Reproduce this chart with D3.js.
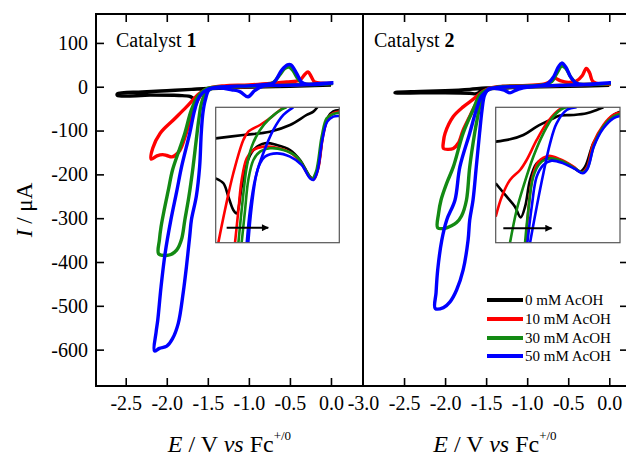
<!DOCTYPE html>
<html><head><meta charset="utf-8">
<script src="https://cdn.jsdelivr.net/npm/d3@7"></script>
<style>
html,body{margin:0;padding:0;background:#fff;}
svg text{font-family:"Liberation Serif","Times New Roman",serif;fill:#000;}
</style></head>
<body><svg id="chart" width="626" height="456"></svg>
<script>
// ---------------- DATA ----------------
const xTicks1 = [-2.5, -2.0, -1.5, -1.0, -0.5, 0.0];
const xTicks2 = [-3.0, -2.5, -2.0, -1.5, -1.0, -0.5, 0.0];
const yTicks = [100, 0, -100, -200, -300, -400, -500, -600];
const seriesNames = ["0 mM AcOH", "10 mM AcOH", "30 mM AcOH", "50 mM AcOH"];
const panelTitles = ["1", "2"];

// Catalyst 1 CVs  [E (V vs Fc+/0), I (uA)]
const cat1_0mM = [[0.00,4],[-0.5,1],[-1.0,-1],[-1.3,-3],[-1.5,-5],[-1.56,-9],[-1.61,-22],[-1.64,-31],[-1.68,-26],[-1.72,-22],[-1.85,-20],[-2.2,-19],[-2.6,-20],
  [-2.6,-16],[-2.3,-12],[-2.0,-9],[-1.7,-6],[-1.5,-4],[-1.2,-2],[-0.8,0],[-0.4,2],[0.00,4]];
const cat1_10mM = [[0.02,8],[-0.2,6],[-0.5,4],[-0.8,2],[-1.1,0],[-1.3,-1],[-1.48,-3],[-1.55,-10],[-1.6,-23],[-1.65,-42],[-1.7,-68],[-1.77,-110],[-1.84,-145],[-1.9,-157],[-1.94,-160],[-2.0,-157],[-2.05,-155],[-2.12,-158],[-2.19,-165],
  [-2.17,-140],[-2.08,-106],[-1.92,-76],[-1.76,-46],[-1.6,-15],[-1.48,-3],[-1.3,2],[-1.0,4],[-0.71,8],[-0.54,11],[-0.38,15],[-0.32,28],[-0.28,34],[-0.24,23],[-0.2,11],[-0.1,8],[0.02,8]];
const cat1_30mM = [[0.02,7],[-0.3,5],[-0.6,3],[-1.0,1],[-1.3,-1],[-1.45,-4],[-1.53,-15],[-1.58,-40],[-1.61,-75],[-1.64,-120],[-1.68,-183],[-1.73,-250],[-1.78,-304],[-1.82,-348],[-1.88,-373],[-1.95,-383],[-2.02,-385],[-2.1,-381],
  [-2.09,-350],[-2.07,-320],[-2.03,-280],[-1.98,-235],[-1.93,-190],[-1.85,-145],[-1.78,-106],[-1.70,-53],[-1.62,-22],[-1.52,-5],[-1.3,0],[-1.0,2],[-0.8,4],[-0.7,10],[-0.62,28],[-0.56,42],[-0.51,45],[-0.46,36],[-0.41,20],[-0.35,8],[-0.25,5],[0.02,7]];
const cat1_50mM = [[0.03,9],[-0.3,5],[-0.6,3],[-0.82,2],[-0.93,-9],[-1.01,-23],[-1.11,-11],[-1.21,-7],[-1.35,-3],[-1.48,-6],[-1.53,-30],[-1.56,-60],[-1.58,-106],[-1.6,-183],[-1.64,-250],[-1.70,-304],[-1.72,-340],[-1.76,-410],[-1.80,-470],[-1.86,-540],[-1.93,-575],[-2.0,-592],[-2.09,-597],[-2.15,-603],
  [-2.13,-560],[-2.11,-533],[-2.07,-457],[-2.02,-380],[-1.95,-304],[-1.88,-240],[-1.82,-183],[-1.72,-106],[-1.66,-53],[-1.6,-22],[-1.5,-6],[-1.3,0],[-1.0,2],[-0.8,5],[-0.7,9],[-0.6,38],[-0.53,50],[-0.49,50],[-0.42,31],[-0.36,11],[-0.3,6],[-0.2,5],[0.03,9]];

// Catalyst 2 CVs
const cat2_0mM = [[0.0,3],[-0.5,1],[-1.0,-1],[-1.3,-3],[-1.48,-5],[-1.56,-10],[-1.62,-16],[-1.7,-15],[-2.0,-14],[-2.3,-14],[-2.61,-14],
  [-2.6,-13],[-2.3,-11],[-2.0,-9],[-1.7,-6],[-1.5,-3],[-1.0,0],[-0.5,1],[0.0,3]];
const cat2_10mM = [[0.02,6],[-0.3,5],[-0.6,3],[-1.0,1],[-1.3,-1],[-1.45,-4],[-1.51,-11],[-1.56,-25],[-1.62,-38],[-1.70,-68],[-1.78,-99],[-1.84,-129],[-1.90,-141],[-1.96,-143],[-2.02,-141],
  [-2.02,-125],[-2.0,-106],[-1.90,-68],[-1.78,-46],[-1.66,-29],[-1.54,-11],[-1.45,-3],[-1.3,1],[-1.0,3],[-0.8,6],[-0.72,12],[-0.66,19],[-0.6,14],[-0.5,10],[-0.4,13],[-0.33,25],[-0.28,42],[-0.24,32],[-0.2,12],[-0.1,6],[0.02,6]];
const cat2_30mM = [[0.02,7],[-0.3,5],[-0.6,3],[-1.0,1],[-1.3,-1],[-1.45,-4],[-1.52,-15],[-1.57,-40],[-1.61,-75],[-1.64,-106],[-1.70,-183],[-1.74,-259],[-1.8,-295],[-1.86,-310],[-1.93,-318],[-2.0,-323],[-2.09,-322],
  [-2.08,-290],[-2.05,-259],[-1.98,-220],[-1.90,-183],[-1.78,-106],[-1.66,-53],[-1.56,-15],[-1.4,-2],[-1.0,2],[-0.78,5],[-0.7,12],[-0.64,30],[-0.58,47],[-0.53,42],[-0.47,22],[-0.4,8],[-0.3,5],[0.02,7]];
const cat2_50mM = [[0.02,9],[-0.3,5],[-0.6,3],[-0.9,1],[-1.08,-4],[-1.15,-9],[-1.21,-14],[-1.28,-8],[-1.38,-4],[-1.47,-5],[-1.52,-20],[-1.55,-53],[-1.58,-106],[-1.62,-183],[-1.66,-259],[-1.70,-304],[-1.72,-350],[-1.78,-418],[-1.86,-464],[-1.94,-491],[-2.02,-504],[-2.12,-506],
  [-2.11,-470],[-2.09,-418],[-2.04,-350],[-1.98,-304],[-1.88,-259],[-1.82,-183],[-1.70,-106],[-1.62,-53],[-1.55,-20],[-1.45,-5],[-1.2,0],[-0.9,2],[-0.76,6],[-0.68,22],[-0.62,45],[-0.58,54],[-0.53,45],[-0.47,22],[-0.4,8],[-0.3,5],[0.02,9]];

// Insets (magnified onset region, arbitrary magnified current units)
const insetE = [-1.70, -0.90];
const insetI = [-14, 1];
const ins1_0mM = [
  [[-1.700,-2.44],[-1.521,-2.07],[-1.349,-1.70],[-1.219,-0.96],[-1.111,0.15],[-1.068,0.52],[-1.042,1.0]],
  [[-1.700,-6.87],[-1.650,-7.42],[-1.618,-8.90],[-1.586,-10.38],[-1.564,-10.75],[-1.532,-7.79],[-1.499,-5.21],[-1.456,-3.73],[-1.381,-2.99],[-1.305,-3.17],[-1.219,-3.73],[-1.154,-4.84],[-1.090,-6.68],[-1.068,-6.94],[-1.036,-5.58],[-1.004,-1.88],[-0.971,-0.03],[-0.939,0.55],[-0.900,0.70]]];
const ins1_10mM = [
  [[-1.683,-14.0],[-1.640,-10.38],[-1.586,-6.31],[-1.521,-2.62],[-1.489,-1.70],[-1.413,-0.96],[-1.349,-0.22],[-1.284,0.70],[-1.251,1.0]],
  [[-1.575,-14.0],[-1.553,-10.38],[-1.532,-7.05],[-1.499,-4.65],[-1.456,-3.73],[-1.392,-3.36],[-1.305,-3.47],[-1.219,-3.99],[-1.154,-5.02],[-1.090,-6.76],[-1.064,-6.98],[-1.036,-5.76],[-1.004,-2.07],[-0.971,-0.11],[-0.939,0.34],[-0.900,0.52]]];
const ins1_30mM = [
  [[-1.553,-14.0],[-1.532,-10.38],[-1.499,-5.58],[-1.467,-3.36],[-1.413,-1.51],[-1.349,-0.22],[-1.273,0.78],[-1.241,1.0]],
  [[-1.532,-14.0],[-1.510,-10.38],[-1.489,-7.05],[-1.456,-4.84],[-1.413,-3.91],[-1.349,-3.54],[-1.262,-3.73],[-1.176,-4.47],[-1.111,-6.13],[-1.079,-6.94],[-1.051,-6.13],[-1.014,-2.25],[-0.982,-0.22],[-0.939,0.26],[-0.900,0.41]]];
const ins1_50mM = [
  [[-1.489,-14.0],[-1.467,-10.01],[-1.435,-6.31],[-1.392,-4.10],[-1.327,-1.51],[-1.262,0.15],[-1.198,1.0]],
  [[-1.499,-14.0],[-1.478,-10.38],[-1.446,-7.05],[-1.413,-5.21],[-1.381,-4.47],[-1.305,-4.10],[-1.219,-4.47],[-1.144,-5.39],[-1.090,-6.87],[-1.068,-7.05],[-1.042,-6.13],[-1.010,-2.62],[-0.978,-0.59],[-0.939,-0.03],[-0.900,0.04]]];

const ins2_0mM = [
  [[-1.700,-2.80],[-1.608,-2.55],[-1.522,-2.07],[-1.436,-1.14],[-1.350,-0.40],[-1.286,0.08],[-1.200,0.15],[-1.114,0.34],[-1.050,0.70],[-1.007,1.0]],
  [[-1.700,-7.42],[-1.629,-8.90],[-1.576,-10.01],[-1.539,-11.19],[-1.511,-10.01],[-1.479,-7.05],[-1.436,-5.21],[-1.372,-4.65],[-1.308,-4.84],[-1.222,-5.39],[-1.157,-6.13],[-1.125,-5.58],[-1.072,-2.99],[-1.007,-1.14],[-0.943,0.15],[-0.900,0.52]]];
const ins2_10mM = [
  [[-1.700,-11.12],[-1.661,-8.90],[-1.608,-7.05],[-1.543,-5.95],[-1.501,-4.84],[-1.436,-2.62],[-1.372,-0.77],[-1.308,0.52],[-1.265,1.0]],
  [[-1.505,-14.0],[-1.490,-10.38],[-1.462,-6.68],[-1.425,-5.02],[-1.361,-4.39],[-1.286,-4.76],[-1.200,-5.58],[-1.147,-6.20],[-1.114,-5.69],[-1.072,-2.99],[-1.007,-0.96],[-0.943,0.15],[-0.900,0.41]]];
const ins2_30mM = [
  [[-1.608,-14.0],[-1.565,-10.38],[-1.522,-7.79],[-1.458,-4.47],[-1.393,-1.88],[-1.329,-0.03],[-1.265,0.89],[-1.232,1.0]],
  [[-1.511,-14.0],[-1.490,-10.38],[-1.458,-6.68],[-1.415,-5.21],[-1.350,-4.65],[-1.275,-4.95],[-1.190,-5.76],[-1.140,-6.24],[-1.110,-5.76],[-1.067,-3.17],[-1.007,-1.14],[-0.943,-0.03],[-0.900,0.26]]];
const ins2_50mM = [
  [[-1.479,-14.0],[-1.436,-10.01],[-1.393,-6.31],[-1.350,-2.99],[-1.308,-0.77],[-1.243,0.70],[-1.179,1.0]],
  [[-1.496,-14.0],[-1.468,-10.01],[-1.436,-6.68],[-1.393,-5.39],[-1.340,-4.91],[-1.265,-5.21],[-1.190,-5.83],[-1.140,-6.31],[-1.110,-5.83],[-1.067,-3.29],[-1.007,-1.33],[-0.943,-0.22],[-0.900,0.04]]];

// Scan-direction arrows in insets
const arrowIns1 = [[-1.629,-12.34],[-1.360,-12.34]];
const arrowIns2 = [[-1.651,-12.40],[-1.340,-12.40]];

// ---------------- STYLE / LAYOUT ----------------
const colors = ["#000000", "#ff0000", "#138a13", "#0000ff"];
const svg = d3.select("#chart");
const yTopPx = 14, yBotPx = 386;
const panels = [
  {x0: 96, x1: 363, domain: [-2.862, 0.390], ticks: xTicks1, data: [cat1_0mM, cat1_10mM, cat1_30mM, cat1_50mM],
   inset: {x: 215.7, y: 107.3, w: 123.6, h: 135.4, data: [ins1_0mM, ins1_10mM, ins1_30mM, ins1_50mM], arrow: arrowIns1}},
  {x0: 363, x1: 627, domain: [-3.0, 0.216], ticks: xTicks2, data: [cat2_0mM, cat2_10mM, cat2_30mM, cat2_50mM],
   inset: {x: 495.7, y: 107.3, w: 124.3, h: 135.4, data: [ins2_0mM, ins2_10mM, ins2_30mM, ins2_50mM], arrow: arrowIns2}}
];
const y = d3.scaleLinear().domain([-683, 166]).range([yBotPx, yTopPx]);
const fmtX = d => d3.format(".1f")(d).replace("\u2212", "-");
const fmtY = d => String(d);

const defs = svg.append("defs");
defs.append("marker").attr("id", "arrowhead").attr("viewBox", "0 0 10 10")
  .attr("refX", 9).attr("refY", 5).attr("markerUnits", "userSpaceOnUse")
  .attr("markerWidth", 13).attr("markerHeight", 7).attr("orient", "auto")
  .append("path").attr("d", "M0,0L10,5L0,10Z").attr("fill", "#000");

panels.forEach((p, pi) => {
  const x = d3.scaleLinear().domain(p.domain).range([p.x0, p.x1]);
  const clipId = "clip" + pi;
  defs.append("clipPath").attr("id", clipId).append("rect")
    .attr("x", p.x0).attr("y", yTopPx).attr("width", p.x1 - p.x0).attr("height", yBotPx - yTopPx);
  const line = d3.line().x(d => x(d[0])).y(d => y(d[1])).curve(d3.curveCatmullRom.alpha(0.5));
  const gc = svg.append("g").attr("clip-path", `url(#${clipId})`);
  p.data.forEach((s, i) => {
    gc.append("path").attr("d", line(s)).attr("fill", "none")
      .attr("stroke", colors[i]).attr("stroke-width", 3.4).attr("stroke-linejoin", "round");
  });

  // inset
  const ins = p.inset;
  const xi = d3.scaleLinear().domain(insetE).range([ins.x, ins.x + ins.w]);
  const yi = d3.scaleLinear().domain(insetI).range([ins.y + ins.h, ins.y]);
  svg.append("rect").attr("x", ins.x).attr("y", ins.y).attr("width", ins.w).attr("height", ins.h)
    .attr("fill", "#fff");
  const icl = "iclip" + pi;
  defs.append("clipPath").attr("id", icl).append("rect")
    .attr("x", ins.x).attr("y", ins.y).attr("width", ins.w).attr("height", ins.h);
  const gi = svg.append("g").attr("clip-path", `url(#${icl})`);
  const iline = d3.line().x(d => xi(d[0])).y(d => yi(d[1])).curve(d3.curveCatmullRom.alpha(0.5));
  ins.data.forEach((branches, i) => {
    branches.forEach(b => {
      gi.append("path").attr("d", iline(b)).attr("fill", "none")
        .attr("stroke", colors[i]).attr("stroke-width", 2.6);
    });
  });
  svg.append("line").attr("x1", xi(ins.arrow[0][0])).attr("y1", yi(ins.arrow[0][1]))
    .attr("x2", xi(ins.arrow[1][0])).attr("y2", yi(ins.arrow[1][1]))
    .attr("stroke", "#000").attr("stroke-width", 2).attr("marker-end", "url(#arrowhead)");
  svg.append("rect").attr("x", ins.x).attr("y", ins.y).attr("width", ins.w).attr("height", ins.h)
    .attr("fill", "none").attr("stroke", "#555").attr("stroke-width", 1.2);

  // axes
  const gb = svg.append("g").attr("transform", `translate(0,${yBotPx})`)
    .call(d3.axisBottom(x).tickValues(p.ticks).tickSize(-8).tickPadding(10).tickFormat(fmtX));
  const gt = svg.append("g").attr("transform", `translate(0,${yTopPx})`)
    .call(d3.axisTop(x).tickValues(p.ticks.filter(t => x(t) > p.x0 + 2)).tickSize(-8).tickFormat(""));
  [gb, gt].forEach(g => { g.select(".domain").remove(); });
  gb.selectAll(".tick line").filter(d => x(d) <= p.x0 + 2).remove();
  if (pi === 0) {
    const gl = svg.append("g").attr("transform", `translate(${p.x0},0)`)
      .call(d3.axisLeft(y).tickValues(yTicks).tickSize(-8).tickPadding(8).tickFormat(fmtY));
    gl.select(".domain").remove();
  } else {
    const gr = svg.append("g").attr("transform", `translate(${p.x1},0)`)
      .call(d3.axisRight(y).tickValues(yTicks).tickSize(-7).tickFormat(""));
    gr.select(".domain").remove();
  }
  svg.selectAll(".tick line").attr("stroke", "#000").attr("stroke-width", 1.6);
  svg.selectAll(".tick text").attr("font-size", 20).attr("font-family", '"Liberation Serif",serif');

  // frame
  svg.append("rect").attr("x", p.x0).attr("y", yTopPx).attr("width", p.x1 - p.x0).attr("height", yBotPx - yTopPx)
    .attr("fill", "none").attr("stroke", "#000").attr("stroke-width", 2);

  // panel title
  const tt = svg.append("text").attr("x", p.x0 + (pi === 0 ? 20 : 11)).attr("y", 47).attr("font-size", 20);
  tt.append("tspan").text("Catalyst ");
  tt.append("tspan").attr("font-weight", "bold").text(panelTitles[pi]);

  // x title
  const xt = svg.append("text").attr("x", (p.x0 + p.x1) / 2).attr("y", 452)
    .attr("text-anchor", "middle").attr("font-size", 24);
  xt.append("tspan").attr("font-style", "italic").text("E");
  xt.append("tspan").text(" / V ");
  xt.append("tspan").attr("font-style", "italic").text("vs");
  xt.append("tspan").text(" Fc");
  xt.append("tspan").attr("font-size", 13).attr("dy", -12).text("+/0");
});

// y title
const yt = svg.append("text").attr("transform", "translate(32,210) rotate(-90)")
  .attr("text-anchor", "middle").attr("font-size", 23);
yt.append("tspan").attr("font-style", "italic").text("I");
yt.append("tspan").text(" / \u03bcA");

// legend
const legRows = [300, 319, 338, 356];
const lg = svg.append("g");
seriesNames.forEach((n, i) => {
  lg.append("line").attr("x1", 487).attr("x2", 523).attr("y1", legRows[i]).attr("y2", legRows[i])
    .attr("stroke", colors[i]).attr("stroke-width", 4);
  lg.append("text").attr("x", 525).attr("y", legRows[i] + 5).attr("font-size", 15).text(n);
});
</script></body></html>
